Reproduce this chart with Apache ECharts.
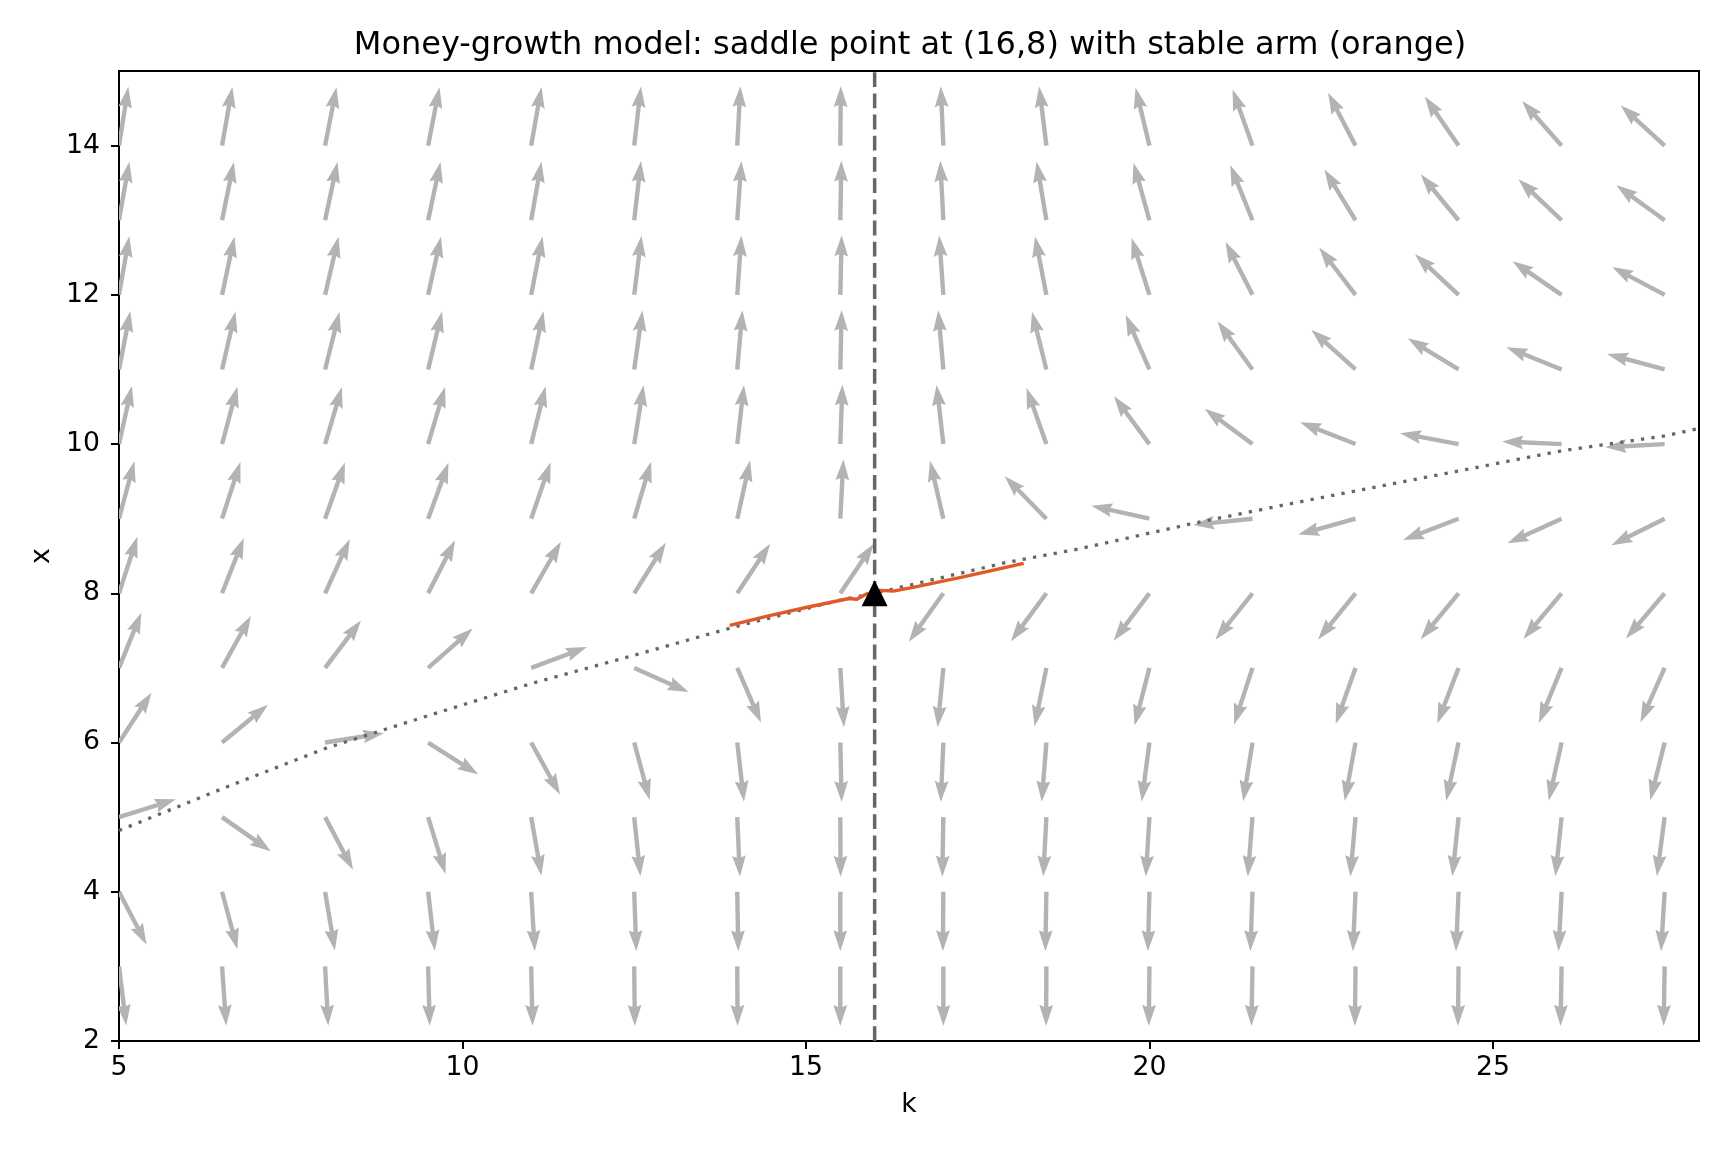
<!DOCTYPE html>
<html><head><meta charset="utf-8">
<script src="https://cdn.jsdelivr.net/npm/echarts@6/dist/echarts.min.js"></script>
<style>html,body{margin:0;padding:0;background:#fff}#c{width:1728px;height:1152px}</style>
</head><body><div id="c"></div>
<script>
// grid of arrow tails
const kGrid = [5, 6.5, 8, 9.5, 11, 12.5, 14, 15.5, 17, 18.5, 20, 21.5, 23, 24.5, 26, 27.5];
const xGrid = [14, 13, 12, 11, 10, 9, 8, 7, 6, 5, 4, 3];
// arrow direction (degrees on screen, 0 = right, 90 = up), one row per x value
const angles14 = [81, 80, 79, 79, 80, 83.5, 87, 89.5, 92.5, 97, 103.5, 109.5, 117.5, 124.5, 131.5, 137.5];
const angles13 = [80, 78.5, 78, 78, 80, 83.5, 86, 89, 93, 99.5, 105.5, 112, 121.5, 129.5, 136.5, 144];
const angles12 = [80, 78, 77, 77.5, 79, 83, 86, 88.7, 94, 101, 107.5, 117, 127.5, 137, 145.5, 152];
const angles11 = [79, 77, 76, 76.5, 78, 82, 85, 88.7, 95, 104, 113.5, 126, 138, 148.5, 158, 165];
const angles10 = [77.5, 75, 73.5, 73.5, 76, 81, 83.5, 88, 96.5, 109.5, 126.5, 143.5, 158.5, 169.5, 177.5, 183];
const angles9  = [75, 72, 70.5, 70, 71, 73.5, 77.5, 87, 103, 134.5, 167.5, 186, 195.5, 201, 204.5, 206.5];
const angles8  = [72, 68.5, 65.5, 63, 60, 58, 56.5, 56, 234.5, 233.5, 233, 231.5, 231, 230.5, 230, 229.5];
const angles7  = [68, 61, 53, 41.5, 20.5, -24, -66.5, -86.5, 264.5, 258.5, 255.5, 252, 250.5, 249, 247.5, 246];
const angles6  = [57, 39.5, 9, -32.5, -61, -75, -83.5, -88.7, 267.5, 265.5, 262.5, 261, 259.5, 258, 257.5, 256];
const angles5  = [17.5, -35, -62, -73, -80, -84, -87.5, -89.7, 269, 267, 266.5, 265.5, 265, 264, 264, 262.5];
const angles4  = [-62.5, -75, -80.5, -83.5, -86.5, -88, -89, -90, 269.5, 269, 268.5, 268, 267.5, 267.5, 267, 266.5];
const angles3  = [-83, -86, -87, -88.5, -88.7, -89.4, -89.7, -90, 270, 269.7, 269.4, 269, 269.4, 269.4, 269, 269];
const angleRows = [angles14, angles13, angles12, angles11, angles10, angles9, angles8, angles7, angles6, angles5, angles4, angles3];

// x-dot = 0 locus (dotted)
const nullK = [5, 6.5, 8, 9.5, 11, 12.5, 14, 15.5, 16, 17.9, 19, 20.6, 22.1, 24.5, 26, 27.5, 28];
const nullX = [4.82, 5.38, 5.92, 6.36, 6.79, 7.17, 7.56, 7.91, 8.0, 8.41, 8.6, 8.93, 9.21, 9.64, 9.91, 10.11, 10.21];
// stable arm (orange)
const armK = [13.89, 14.47, 15.05, 15.63, 15.74, 15.88, 16.0, 16.08, 16.27, 16.56, 17.29, 18.17];
const armX = [7.57, 7.70, 7.82, 7.93, 7.92, 7.99, 8.0, 8.04, 8.03, 8.08, 8.22, 8.40];
// k-dot = 0 locus (vertical dashed) and saddle point
const kStar = 16;
const saddle = [16, 8];
const xTicks = [5, 10, 15, 20, 25];
const yTicks = [2, 4, 6, 8, 10, 12, 14];

const arrowData = [];
xGrid.forEach((x, i) => kGrid.forEach((k, j) => arrowData.push([k, x, angleRows[i][j]])));

function renderArrow(params, api) {
  const p = api.coord([api.value(0), api.value(1)]);
  const a = api.value(2) * Math.PI / 180;
  const ux = Math.cos(a), uy = -Math.sin(a);
  const nx = -uy, ny = ux;
  const L = 59.5, hw = 2.2, hl = 21, ha = 19, hh = 6.9;
  const pt = (s, t) => [p[0] + ux * s + nx * t, p[1] + uy * s + ny * t];
  return {
    type: 'polygon',
    shape: { points: [pt(0, -hw), pt(L - ha, -hw), pt(L - hl, -hh), pt(L, 0), pt(L - hl, hh), pt(L - ha, hw), pt(0, hw)] },
    style: { fill: '#b3b3b3' }
  };
}

const font = 'DejaVu Sans';
const chart = echarts.init(document.getElementById('c'));
chart.setOption({
  animation: false,
  backgroundColor: '#fff',
  title: {
    text: 'Money-growth model: saddle point at (16,8) with stable arm (orange)',
    left: 905, top: 25, textAlign: 'center',
    textStyle: { fontFamily: font, fontSize: 32, fontWeight: 'normal', color: '#000' }
  },
  grid: { left: 119, right: 29, top: 71, bottom: 111, show: true, borderColor: '#000', borderWidth: 2, backgroundColor: 'transparent' },
  xAxis: {
    type: 'value', min: 5, max: 28, interval: 5,
    name: 'k', nameLocation: 'middle', nameGap: 51,
    nameTextStyle: { fontFamily: font, fontSize: 26.7, color: '#000' },
    axisLine: { show: true, onZero: false, lineStyle: { color: '#000', width: 2 } },
    axisTick: { show: true, length: 8, lineStyle: { color: '#000', width: 2 }, customValues: xTicks },
    axisLabel: { fontFamily: font, fontSize: 26.7, color: '#000', margin: 14, customValues: xTicks },
    splitLine: { show: false }
  },
  yAxis: {
    type: 'value', min: 2, max: 15, interval: 2,
    name: 'x', nameLocation: 'middle', nameGap: 63, nameRotate: 90,
    nameTextStyle: { fontFamily: font, fontSize: 26.7, color: '#000' },
    axisLine: { show: true, onZero: false, lineStyle: { color: '#000', width: 2 } },
    axisTick: { show: true, length: 8, lineStyle: { color: '#000', width: 2 }, customValues: yTicks },
    axisLabel: { fontFamily: font, fontSize: 26.7, color: '#000', margin: 19, customValues: yTicks },
    splitLine: { show: false }
  },
  series: [
    { type: 'custom', renderItem: renderArrow, data: arrowData, clip: true, z: 1, silent: true },
    { type: 'line', data: [[kStar, 2], [kStar, 15]], symbol: 'none', z: 2, silent: true,
      lineStyle: { color: '#666', width: 3.5, type: [14.8, 6.4] } },
    { type: 'line', data: nullK.map((k, i) => [k, nullX[i]]), symbol: 'none', z: 3, silent: true,
      lineStyle: { color: '#666', width: 3.3, type: [3.3, 7.2] } },
    { type: 'line', data: armK.map((k, i) => [k, armX[i]]), symbol: 'none', z: 4, silent: true,
      lineStyle: { color: '#e05a28', width: 3.4 } },
    { type: 'scatter', data: [saddle], symbol: 'triangle', symbolSize: [26, 26], z: 5, silent: true,
      itemStyle: { color: '#000', opacity: 1 } }
  ]
});
</script></body></html>
